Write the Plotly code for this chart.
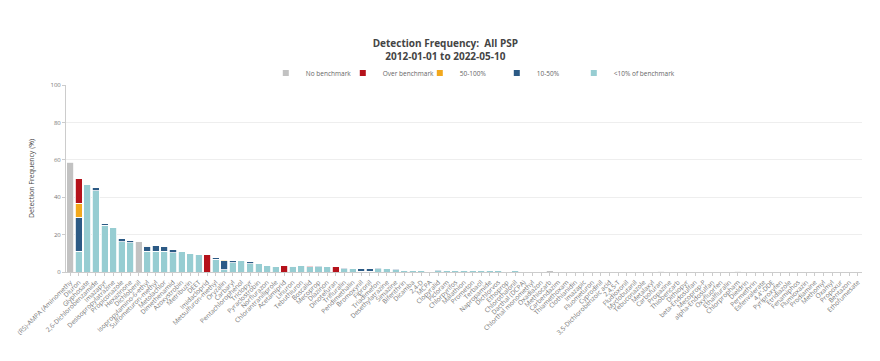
import plotly.graph_objects as go

categories = [
    "(RS)-AMPA (Aminomethy", "Diuron", "Glyphosate", "2,6-Dichlorobenzamide", "Imazapyr",
    "Desisopropylatrazine", "Propiconazole", "Hexazinone", "Dichlobenil", "Isopropylamino-6-ethyl",
    "Sulfometuron-methyl", "Metolachlor", "Dimethenamid", "Azoxystrobin", "Metribuzin",
    "DEET", "Imidacloprid", "Metsulfuron-methyl", "Oryzalin", "Carbaryl",
    "Pentachlorophenol", "Triclopyr", "Pyraclostrobin", "Norflurazon", "Chlorantraniliprole",
    "Acetamiprid", "Linuron", "Tebuthiuron", "Boscalid", "Mecoprop",
    "Diazinon", "Dinotefuran", "Trifluralin", "Pendimethalin", "Bromoxynil",
    "Fipronil", "Triadimefon", "Desethylatrazine", "Simazine", "Bifenthrin",
    "Dicamba", "2,4-D", "MCPA", "Clopyralid", "Picloram",
    "Chlorpyrifos", "Malathion", "Prometon", "Terbacil", "Napropamide",
    "Dichlorvos", "Ethoprop", "Chlorothalonil", "Dacthal (DCPA)", "Chlorthal monomethyl",
    "Oxadiazon", "Methiocarb", "Carbendazim", "Thiamethoxam", "Clothianidin",
    "Imazapic", "Fluometuron", "Cyprodinil", "3,5-Dichlorobenzoic acid", "2,4,5-T",
    "Fludioxonil", "Myclobutanil", "Tebuconazole", "Metalaxyl", "Carbofuran",
    "Propazine", "Thiobencarb", "Dithiopyr", "beta-Endosulfan", "Mecoprop-P",
    "alpha-Endosulfan", "Oxyfluorfen", "Ethalfluralin", "Chlorpropham", "Dieldrin",
    "Permethrin", "Esfenvalerate", "4,4'-DDE", "Pyriproxyfen", "Etridiazole",
    "Fenamiphos", "Flumioxazin", "Prodiamine", "Methomyl", "Oxamyl",
    "Propoxur", "Bentazon", "Ethofumesate",
]

no_benchmark = [
    58.6, 0, 0, 0, 0, 0, 0, 0, 16.3, 0,
    0, 0, 0, 0, 0, 0, 0, 0, 0, 0,
    0, 0, 0, 0, 0, 0, 0, 0, 0, 0,
    0, 0, 0, 0, 0, 0, 0, 0, 0, 0,
    0, 0, 0, 0, 0, 0, 0, 0, 0, 0,
    0, 0, 0, 0, 0, 0, 0.6, 0, 0, 0,
    0, 0, 0, 0, 0.4, 0, 0, 0, 0, 0.5,
    0, 0, 0, 0, 0, 0, 0, 0, 0.4, 0,
    0, 0, 0, 0, 0, 0, 0, 0, 0, 0,
    0, 0, 0,
]

over_benchmark = [
    0, 13.0, 0, 0, 0, 0, 0, 0, 0, 0.5,
    0, 0, 0, 0, 0, 0, 9.2, 0, 0, 0,
    0, 0, 0, 0, 0, 3.6, 0.2, 0, 1.0, 0,
    0, 2.7, 0, 0, 0, 0, 0, 0, 0, 0,
    0, 0, 0.5, 0, 0, 0.3, 0, 0, 0, 0,
    0, 0.3, 0, 0, 0, 0, 0, 0, 0, 0,
    0, 0, 0, 0, 0, 0, 0, 0, 0, 0,
    0, 0, 0, 0, 0, 0.1, 0, 0, 0, 0,
    0, 0, 0, 0, 0, 0, 0, 0, 0, 0,
    0, 0, 0,
]

pct_50_100 = [
    0, 7.5, 0, 0, 0, 0, 0, 0, 0, 0.3,
    0, 0, 0, 0, 0, 0, 0, 0, 0.7, 0.3,
    0, 0, 0, 0, 0, 0, 0, 0, 0, 0,
    0, 0, 0, 0, 0, 0, 0, 0, 0, 0,
    0, 0, 0, 0, 0, 0, 0, 0, 0, 0,
    0, 0, 0, 0, 0, 0, 0, 0, 0, 0,
    0, 0, 0, 0, 0, 0, 0, 0, 0, 0,
    0, 0, 0, 0, 0, 0, 0, 0, 0, 0,
    0, 0, 0, 0, 0, 0, 0, 0, 0, 0,
    0, 0, 0,
]

pct_10_50 = [
    0, 18.3, 0, 1.8, 0.9, 0, 1.5, 1.4, 0, 2.7,
    3.0, 2.7, 1.8, 0, 0, 0, 0, 1.3, 4.8, 1.1,
    0, 1.0, 0, 0, 0, 0, 0.5, 0, 0, 0.5,
    0, 0, 0.5, 0, 1.8, 1.8, 0.5, 0, 0.6, 0,
    0, 0, 0, 0.3, 0, 0, 0, 0, 0.2, 0,
    0, 0, 0, 0, 0, 0, 0, 0, 0, 0,
    0.2, 0, 0, 0, 0, 0, 0, 0, 0, 0,
    0, 0, 0, 0, 0, 0, 0, 0, 0, 0,
    0, 0, 0, 0, 0, 0, 0, 0, 0, 0,
    0, 0, 0,
]

pct_lt_10 = [
    0, 11.0, 47.0, 43.5, 24.9, 24.0, 16.3, 15.6, 0, 11.2,
    11.2, 11.2, 10.3, 10.7, 9.8, 9.2, 0, 6.7, 1.2, 5.0,
    6.2, 4.5, 4.8, 3.6, 3.2, 0, 3.0, 3.6, 2.7, 2.9,
    3.0, 0, 1.8, 2.0, 0.3, 0.3, 1.8, 2.0, 1.2, 0.9,
    1.0, 0.9, 0.5, 0.8, 0.9, 0.6, 0.8, 0.7, 0.6, 0.7,
    0.6, 0.5, 0.6, 0.5, 0.4, 0.5, 0, 0.5, 0.4, 0.5,
    0.4, 0.4, 0.3, 0.4, 0.3, 0.4, 0.3, 0.3, 0.3, 0,
    0.3, 0.3, 0.2, 0.3, 0.2, 0.3, 0.2, 0.2, 0, 0.2,
    0.2, 0.2, 0.2, 0.15, 0.2, 0.15, 0.15, 0.15, 0.1, 0.15,
    0.1, 0.1, 0.1,
]

series = [
    ("<10% of benchmark", pct_lt_10, "#97cdd2", 5),
    ("10-50%", pct_10_50, "#2c5a85", 4),
    ("50-100%", pct_50_100, "#f2a81d", 3),
    ("Over benchmark", over_benchmark, "#b5121b", 2),
    ("No benchmark", no_benchmark, "#c2c2c2", 1),
]

fig = go.Figure()
for name, vals, color, rank in series:
    fig.add_trace(go.Bar(
        x=categories, y=vals, name=name, showlegend=False,
        marker=dict(color=color, line=dict(color="white", width=0.8)),
    ))
# legend entries with small square symbols, in reference order
for name, vals, color, rank in sorted(series, key=lambda s: s[3]):
    fig.add_trace(go.Scatter(
        x=[None], y=[None], mode="markers", name=name, legendrank=rank,
        marker=dict(symbol="square", size=6, color=color),
    ))
# empty trailing legend slot so the last label is not clipped
fig.add_trace(go.Scatter(
    x=[None], y=[None], mode="markers", name=" ", legendrank=6,
    marker=dict(symbol="square", size=6, color="rgba(0,0,0,0)"),
))

fig.update_layout(
    width=880, height=361,
    barmode="stack", bargap=0.18,
    font=dict(family="Open Sans", color="#666"),
    paper_bgcolor="white", plot_bgcolor="white",
    margin=dict(l=58, r=26, t=77, b=97, autoexpand=False),
    title=dict(
        text="<b>Detection Frequency:  All PSP<br>2012-01-01 to 2022-05-10</b>",
        x=0.497, xanchor="center", y=0.892, yanchor="middle",
        font=dict(size=10, color="#444"),
    ),
    legend=dict(
        orientation="h", x=0.251, xanchor="left", y=1.064, yanchor="middle",
        font=dict(size=6.5, color="#666"), traceorder="normal",
        itemwidth=30, entrywidth=32,
    ),
    xaxis=dict(
        tickangle=-45, tickfont=dict(size=6.5, color="#777"),
        showline=True, linecolor="#ccc", ticks="outside", ticklen=3, tickcolor="#ccc",
        automargin=False,
    ),
    yaxis=dict(
        range=[0, 100], dtick=20, tickfont=dict(size=6, color="#777"),
        gridcolor="#eeeeee", showline=True, linecolor="#ccc",
        ticks="outside", ticklen=3, tickcolor="#ccc", zeroline=False,
        title=dict(text="Detection Frequency (%)", font=dict(size=7, color="#444")),
        automargin=False,
    ),
)

fig.write_html("out.html")
